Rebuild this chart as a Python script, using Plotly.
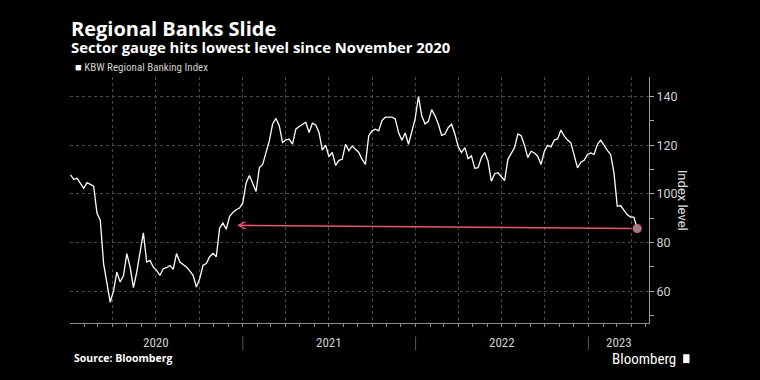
import pandas as pd
import plotly.graph_objects as go

# ---- data (weekly closes) ----
start_date = "2020-01-03"
index_values = [
    107.8, 106, 106.4, 104.3, 102.3, 104.6, 104, 103.2, 92, 89.2,
    71.3, 62.4, 55.5, 60.3, 67.9, 63.8, 66.5, 75.5, 69.9, 61.5,
    67.9, 76.1, 84, 72, 72.7, 69.9, 68.6, 66.5, 69.3, 69.7,
    70.6, 69, 75.5, 72, 71,
    70.0, 68.4, 66.6, 61.8, 65.2, 70.7, 71.4, 74.2, 75.6, 74.2,
    85.9, 88, 85.5, 90.7, 92.4, 93.5, 94.2, 96.3, 104.5, 107.6,
    104.5, 101, 110.8, 112.1, 117, 121.8, 128.7, 131, 128, 121.1,
    122.2, 122.5, 120.4,
    126.6, 127.7, 128.7, 129.4, 125.2, 129, 128.3, 125.2, 118, 120,
    115.3, 117, 111.7, 113.8, 114.2, 120.4, 117.7, 119.7, 118.3, 117,
    114.2, 112.1, 123.9, 125.9, 126.6, 125.9, 130.1, 131.5, 131.5, 131.5,
    130.8, 125.2, 122, 125, 120.4, 125.9, 130.8,
    140, 132.1, 128.7, 129.8, 134.6, 132.1, 128.7, 124, 124.6, 127.3,
    128.6, 124.6, 119.4, 117, 119, 114.5, 115.6, 110.5, 110.8, 114.9,
    117, 113.5, 105.2, 108.3, 108.7, 107.3, 105.5, 114.2, 116.5, 119,
    124.6, 123.9, 120, 114.9,
    117.5, 116.8, 115.5, 112.1, 117.5, 119.9, 119.3, 122.1, 122.6, 126.2,
    123.7, 122.1, 121, 116.2, 110.7, 113, 113.8, 116.2, 116.8, 116.2,
    120.3, 122.1, 119.9, 117.9, 116.2, 108.6, 94.9, 95.2, 93.3, 91.5,
    90.5, 90.5, 85.8,
]
dates = pd.date_range(start_date, periods=len(index_values), freq="7D")

year_labels = ["2020", "2021", "2022", "2023"]
year_starts = ["2020-01-01", "2021-01-01", "2022-01-01", "2023-01-01"]
x_range = ["2020-01-02", "2023-05-09"]
y_range = [47, 148]
y_ticks = [60, 80, 100, 120, 140]
arrow_target_date = "2020-12-20"
arrow_target_value = 87.1

title = "Regional Banks Slide"
subtitle = "Sector gauge hits lowest level since November 2020"
series_name = "KBW Regional Banking Index"
source = "Source: Bloomberg"

last_date = dates[-1]
last_value = index_values[-1]

BG = "#000000"
GRID = "#4a4a4a"
TICK_COL = "#d0d0d0"
ARROW = "#e8566f"
FONT = "Roboto"
BOLD_FONT = "Open Sans"
NARROW = "Liberation Sans Narrow, Roboto Condensed, Roboto"

fig = go.Figure()
fig.add_trace(go.Scatter(
    x=dates, y=index_values, mode="lines",
    line=dict(color="#ffffff", width=1.3),
    name=series_name, showlegend=False, hoverinfo="skip",
))
fig.add_trace(go.Scatter(
    x=[last_date], y=[last_value], mode="markers",
    marker=dict(size=8, color="#8a8a8a", line=dict(color=ARROW, width=1.2)),
    showlegend=False, hoverinfo="skip",
))

annotations = []
annotations.append(dict(
    x=arrow_target_date, y=arrow_target_value, xref="x", yref="y",
    ax=last_date, ay=last_value, axref="x", ayref="y",
    showarrow=True, arrowhead=5, arrowsize=0.85, arrowwidth=1.6,
    arrowcolor=ARROW, text="", standoff=0, startstandoff=5,
))
annotations.append(dict(text=f"<b>{title}</b>", x=-0.002, y=1.198, xref="paper", yref="paper",
                        xanchor="left", yanchor="middle", showarrow=False,
                        font=dict(family=BOLD_FONT, size=20, color="#ffffff")))
annotations.append(dict(text=f"<b>{subtitle}</b>", x=-0.002, y=1.12, xref="paper", yref="paper",
                        xanchor="left", yanchor="middle", showarrow=False,
                        font=dict(family=BOLD_FONT, size=14.8, color="#ffffff")))
annotations.append(dict(text=f"<span style='color:#ffffff'>■</span> {series_name}",
                        x=0.006, y=1.037, xref="paper", yref="paper",
                        xanchor="left", yanchor="middle", showarrow=False,
                        font=dict(family=NARROW, size=11, color="#cfcfcf")))
annotations.append(dict(text=f"<b>{source}</b>", x=0.004, y=-0.142, xref="paper", yref="paper",
                        xanchor="left", yanchor="middle", showarrow=False,
                        font=dict(family=BOLD_FONT, size=10.5, color="#ffffff")))
annotations.append(dict(text="Bloomberg", x=1.05, y=-0.145, xref="paper", yref="paper",
                        xanchor="right", yanchor="middle", showarrow=False,
                        font=dict(family=NARROW, size=15, color="#ffffff")))
annotations.append(dict(text="Index level", x=1.059, y=0.5, xref="paper", yref="paper",
                        xanchor="center", yanchor="middle", showarrow=False, textangle=90,
                        font=dict(family=FONT, size=13, color="#e0e0e0")))

bounds = [pd.Timestamp(d) for d in year_starts[1:]] + [pd.Timestamp(x_range[1])]
lefts = [pd.Timestamp(x_range[0])] + [pd.Timestamp(d) for d in year_starts[1:]]
for lab, l, r in zip(year_labels, lefts, bounds):
    mid = l + (r - l) / 2
    annotations.append(dict(text=lab, x=mid, y=-0.08, xref="x", yref="paper",
                            xanchor="center", yanchor="middle", showarrow=False,
                            font=dict(family=NARROW, size=13, color=TICK_COL)))

shapes = []
for d in year_starts[1:]:
    shapes.append(dict(type="line", xref="x", yref="paper", x0=d, x1=d, y0=-0.055, y1=-0.11,
                       line=dict(color="#5a5a5a", width=1)))
shapes.append(dict(type="rect", xref="paper", yref="paper", x0=1.059, x1=1.07, y0=-0.163, y1=-0.127,
                   line=dict(width=0), fillcolor="#ffffff"))

fig.update_layout(
    width=760, height=380,
    paper_bgcolor=BG, plot_bgcolor=BG,
    margin=dict(l=70, r=111, t=77, b=57),
    annotations=annotations, shapes=shapes,
    showlegend=False,
)
fig.update_xaxes(
    type="date", range=x_range,
    showgrid=True, gridcolor=GRID, griddash="dot", gridwidth=1,
    dtick="M3", tick0="2020-01-01",
    ticks="outside", ticklen=3, tickcolor="#888888",
    showticklabels=False,
    showline=True, linecolor="#888888", linewidth=1,
    minor=dict(dtick="M1", ticks="outside", ticklen=3, tickcolor="#888888", showgrid=False),
    zeroline=False,
)
fig.update_yaxes(
    side="right", range=y_range, tickvals=y_ticks,
    showgrid=True, gridcolor=GRID, griddash="dot", gridwidth=1,
    ticks="outside", ticklen=4, tickcolor="#aaaaaa",
    tickfont=dict(family=FONT, size=12.5, color=TICK_COL),
    showline=True, linecolor="#999999", linewidth=1,
    minor=dict(tickvals=[50, 70, 90, 110, 130], ticks="outside", ticklen=4, tickcolor="#aaaaaa", showgrid=False),
    zeroline=False,
)

fig.write_html(
    "out.html",
    config={"displayModeBar": False},
    post_script="document.body.style.margin='0';document.body.style.background='#000';"
                "document.documentElement.style.background='#000';",
)
